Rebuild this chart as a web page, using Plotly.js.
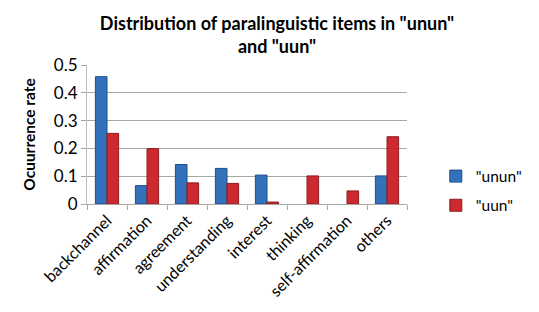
<!DOCTYPE html>
<html>
<head>
<meta charset="utf-8">
<script src="https://cdn.plot.ly/plotly-3.0.1.min.js"></script>
<style>html,body{margin:0;padding:0;background:#fff;}#chart{width:539px;height:312px;}</style>
</head>
<body>
<div id="chart"></div>
<script>
const categories = ["backchannel", "affirmation", "agreement", "understanding", "interest", "thinking", "self-affirmation", "others"];
const ununValues = [0.458, 0.066, 0.142, 0.128, 0.104, 0, 0, 0.101];
const uunValues = [0.254, 0.199, 0.076, 0.074, 0.007, 0.101, 0.047, 0.242];
const seriesNames = ['"unun"', '"uun"'];
const yTicks = [0, 0.1, 0.2, 0.3, 0.4, 0.5];
const yTickLabels = ["0", "0.1", "0.2", "0.3", "0.4", "0.5"];

const font = "Lato, 'Open Sans', 'DejaVu Sans', sans-serif";
const edge = v => v.map(d => d > 0 ? 1 : 0);

const traces = [
  {type: "bar", name: seriesNames[0], x: categories, y: ununValues, legendgroup: "a",
   marker: {color: "#3371ba", line: {color: "#1f4f8c", width: edge(ununValues)}}},
  {type: "bar", name: seriesNames[1], x: categories, y: uunValues, legendgroup: "b",
   marker: {color: "#cc2a30", line: {color: "#8e1c20", width: edge(uunValues)}}}
];

const layout = {
  width: 539, height: 312,
  margin: {l: 87, r: 98, t: 65, b: 108},
  paper_bgcolor: "#ffffff", plot_bgcolor: "#ffffff",
  font: {family: font, color: "#000"},
  title: {text: 'Distribution of paralinguistic items in "unun"<br>and "uun"',
          font: {family: font, size: 18, color: "#000", weight: "bold"},
          x: 0.514, xanchor: "center", y: 0.905, yanchor: "middle"},
  barmode: "group", bargap: 0.42, bargroupgap: 0,
  xaxis: {type: "category", tickangle: -45, tickfont: {size: 16, family: font},
          showline: true, linecolor: "#a6a6a6", linewidth: 1,
          ticks: "outside", tickson: "boundaries", ticklen: 5, tickcolor: "#a6a6a6",
          showgrid: false, fixedrange: true},
  yaxis: {range: [0, 0.5], tickvals: yTicks, ticktext: yTickLabels,
          tickfont: {size: 17, family: font},
          showline: true, linecolor: "#bfbfbf", linewidth: 1,
          ticks: "outside", ticklen: 5, tickcolor: "#a6a6a6",
          showgrid: true, gridcolor: "#a6a6a6", gridwidth: 1, zeroline: false,
          title: {text: "Ocuurrence rate", font: {size: 15.5, family: font, weight: "bold"}, standoff: 14}},
  showlegend: true,
  legend: {x: 1.09, xanchor: "left", y: 0.32, yanchor: "top", font: {size: 15.5, family: font},
           tracegroupgap: 6, bgcolor: "rgba(0,0,0,0)", itemwidth: 30}
};

Plotly.newPlot("chart", traces, layout, {displayModeBar: false, staticPlot: true});
</script>
</body>
</html>
